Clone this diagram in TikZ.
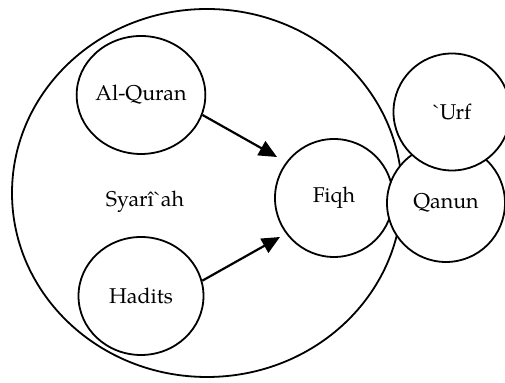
\documentclass[tikz,border=0pt]{standalone}
\usepackage{fontspec}
\setmainfont{TeX Gyre Pagella}
\usetikzlibrary{shapes.geometric,arrows.meta}

\begin{document}
\begin{tikzpicture}[x=0.5pt, y=-0.5pt, >={Triangle[length=9pt,width=8pt]},
	main/.style = {draw, ellipse, fill=white, line width=0.9pt, inner sep=0pt, minimum width=59pt, minimum height=59pt, font=\fontsize{10.7}{12}\selectfont}]
	\useasboundingbox (0,0) rectangle (505,383);
	%% Nodes
	\node[draw, ellipse, line width=0.9pt, minimum width=195pt, minimum height=184pt] (0) at (207,193) {};
	\node[anchor=base, font=\fontsize{10.7}{12}\selectfont] (6) at (145,207) {Syarî\textasciigrave ah};

	\node[main, minimum width=62pt] (1) at (141,95) {Al-Quran};
	\node[main, minimum width=62.5pt] (2) at (141,296) {Hadits};

	\node[main] (3) at (334,198) {Fiqh};
	\node[main] (4) at (446,203) {Qanun};
	\node[main, minimum size=58.5pt] (5) at (452,112) {\textasciigrave Urf};

	\coordinate (a) at (277,157);
	\coordinate (b) at (280,237);

	%% Edges
	\draw[->, line width=1.1pt] (1.-18) -- (a);
	\draw[->, line width=1.1pt] (2.14) -- (b);
\end{tikzpicture}
\end{document}
